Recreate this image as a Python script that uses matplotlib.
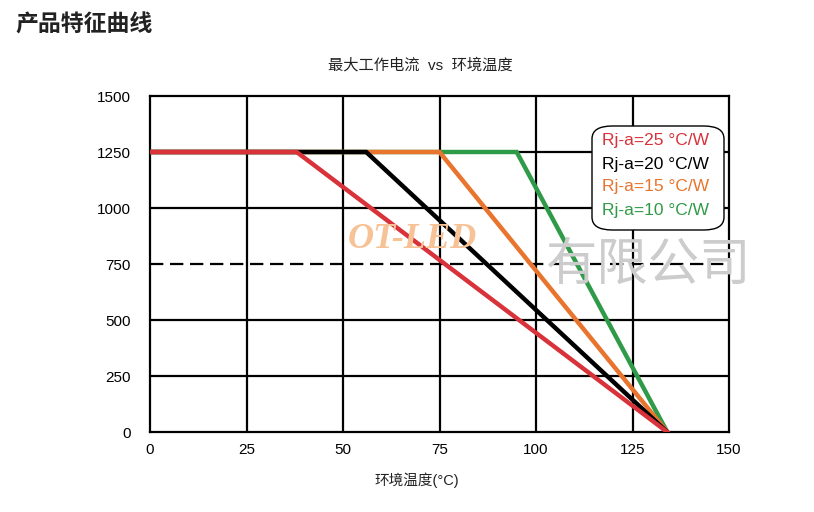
import matplotlib
matplotlib.use("Agg")
import matplotlib.pyplot as plt
from matplotlib.patches import FancyBboxPatch

plt.rcParams['font.family'] = ['Liberation Sans', 'Noto Sans CJK SC']

# Data
series_labels = ["Rj-a=25 °C/W", "Rj-a=20 °C/W", "Rj-a=15 °C/W", "Rj-a=10 °C/W"]
series_colors = ["#d8323a", "#000000", "#e8742e", "#2f9a48"]
knee_temps = [38, 56, 75, 95]          # end of flat (max current) region
max_current = 1250
zero_temp = 134                          # temperature where current reaches 0
x_ticks = [0, 25, 50, 75, 100, 125, 150]
y_ticks = [0, 250, 500, 750, 1000, 1250, 1500]

W, H = 814, 512
fig = plt.figure(figsize=(W/100, H/100), dpi=100)
ax = fig.add_axes([150/W, 1 - 432/H, (729-150)/W, (432-96)/H])
ax.set_xlim(0, 150)
ax.set_ylim(0, 1500)

# grid
for xv in x_ticks[1:-1]:
    ax.axvline(xv, color='black', lw=1.6, zorder=1)
for yv in y_ticks[1:-1]:
    if yv == 750:
        ax.axhline(yv, color='black', lw=1.6, zorder=1, ls=(0, (6, 3)))
    else:
        ax.axhline(yv, color='black', lw=1.6, zorder=1)
for s in ax.spines.values():
    s.set_linewidth(1.6)
    s.set_color('black')

# curves (draw lowest-priority first)
for i in [3, 2, 1, 0]:
    xs = [0, knee_temps[i], zero_temp]
    ys = [max_current, max_current, 0]
    ax.plot(xs, ys, color=series_colors[i], lw=3.2, zorder=3 + (3 - i),
            solid_joinstyle='miter')

ax.set_xticks(x_ticks)
ax.set_yticks(y_ticks)
ax.tick_params(length=0, labelsize=11, pad=8)
ax.tick_params(axis='y', pad=14)

# watermark
fig.text(412/W, 1 - 240/H, "OT-LED", color='#f6c296', fontsize=26,
         family='Liberation Serif', style='italic', fontweight='bold',
         ha='center', va='center', zorder=10)
fig.text(546/W, 1 - 265/H, "有限公司", color='#cccccc', fontsize=37,
         family='Noto Sans CJK SC', ha='left', va='center', zorder=10,
         fontweight='light')

# legend box
box = FancyBboxPatch((592/W, 1 - 230/H), (724-592)/W, (230-126)/H,
                     boxstyle="round,pad=0,rounding_size=0.025",
                     transform=fig.transFigure, facecolor='white',
                     edgecolor='black', lw=1.0, zorder=20)
fig.patches.append(box)
for i, (lab, c) in enumerate(zip(series_labels, series_colors)):
    fig.text(602/W, 1 - (141 + i*23)/H, lab, color=c, fontsize=12.5,
             ha='left', va='center', zorder=21)

# titles
fig.text(15/W, 1 - 25/H, "产品特征曲线", fontsize=16.5, fontweight='bold',
         family='Noto Sans CJK SC', ha='left', va='center', color='#222222')
fig.text(420/W, 1 - 65/H, "最大工作电流  vs  环境温度", fontsize=11,
         ha='center', va='center', color='#222222')
fig.text(417/W, 1 - 480/H, "环境温度(°C)", fontsize=10.5,
         ha='center', va='center', color='#222222')

fig.savefig("out.png", dpi=100)
